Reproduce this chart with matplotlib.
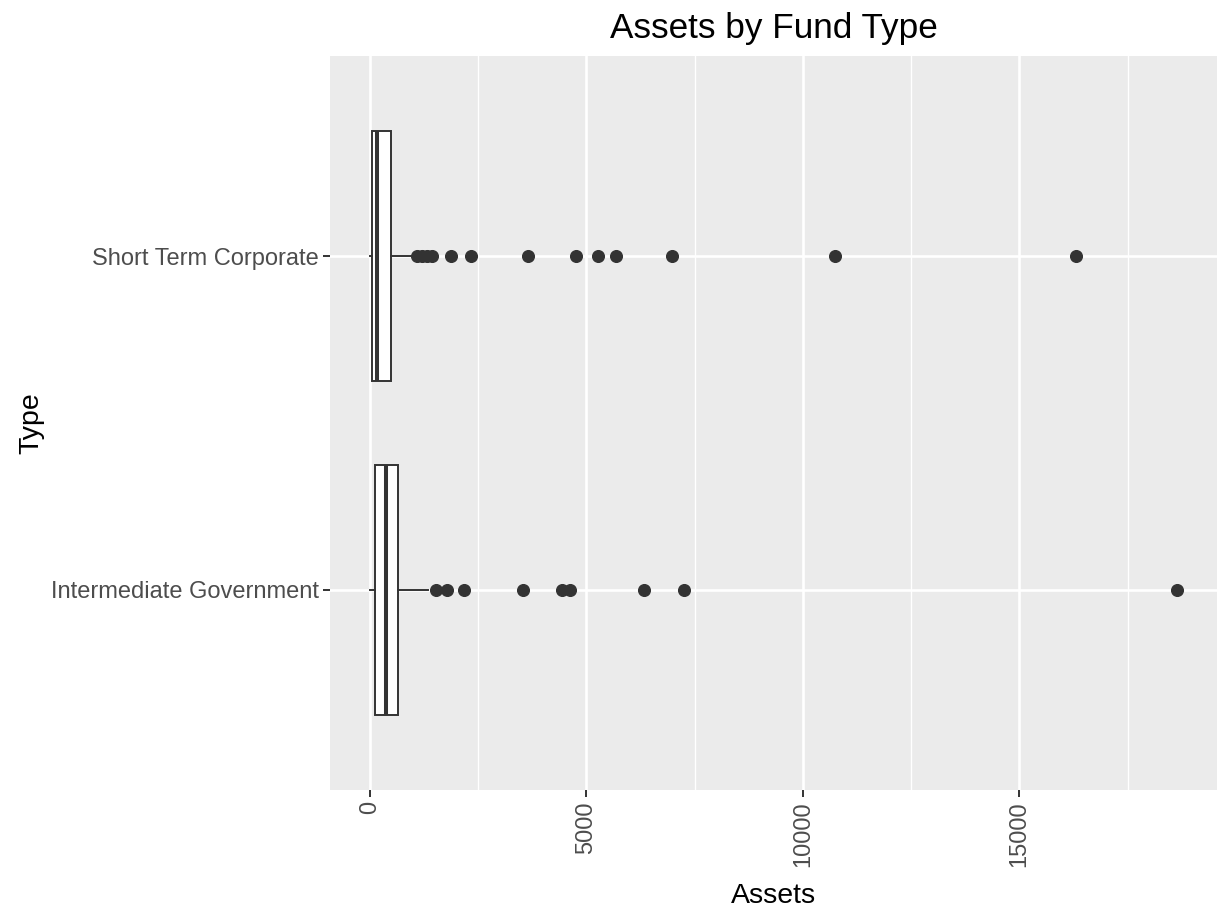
import matplotlib
matplotlib.use("Agg")
import matplotlib.pyplot as plt
from matplotlib.ticker import MultipleLocator

plt.rcParams['font.family'] = ['Liberation Sans', 'DejaVu Sans']

categories = ["Intermediate Government", "Short Term Corporate"]
whislo = [10, 12]
q1 = [109, 53]
median = [377, 174]
q3 = [655, 479]
whishi = [1350, 980]
fliers = [
    [1520, 1790, 2176, 3526, 4437, 4622, 6327, 7253, 18634],
    [1095, 1211, 1326, 1442, 1882, 2345, 3650, 4762, 5271, 5694, 6975, 10741, 16319],
]
x_ticks = [0, 5000, 10000, 15000]

fig = plt.figure(figsize=(12.28, 9.21), dpi=100)
ax = fig.add_axes([330/1228, 1-790/921, (1217-330)/1228, (790-56)/921])
ax.set_facecolor('#EBEBEB')
for s in ax.spines.values():
    s.set_visible(False)

stats = []
for i in range(len(categories)):
    stats.append(dict(whislo=whislo[i], q1=q1[i], med=median[i], q3=q3[i],
                      whishi=whishi[i], fliers=fliers[i], label=categories[i]))

ec = '#333333'
ax.bxp(stats, positions=[1, 2], widths=0.75, vert=False, patch_artist=True,
       showcaps=False,
       boxprops=dict(facecolor='white', edgecolor=ec, linewidth=1.4),
       medianprops=dict(color=ec, linewidth=2.9, solid_capstyle='butt'),
       whiskerprops=dict(color=ec, linewidth=1.4),
       flierprops=dict(marker='o', markerfacecolor=ec, markeredgecolor=ec,
                       markersize=8.4, linestyle='none'), zorder=3)

dmin = min(whislo)
dmax = max(max(f) for f in fliers)
rng = dmax - dmin
ax.set_xlim(dmin - 0.05*rng, dmax + 0.05*rng)
ax.set_ylim(0.4, 2.6)
ax.set_xticks(x_ticks)
ax.set_xticklabels([str(t) for t in x_ticks], rotation=90)
ax.xaxis.set_minor_locator(MultipleLocator(2500))
ax.set_yticks([1, 2])
ax.set_yticklabels(categories)

ax.grid(which='major', color='white', linewidth=1.9, zorder=0)
ax.grid(which='minor', axis='x', color='white', linewidth=0.95, zorder=0)
ax.set_axisbelow(True)
ax.tick_params(axis='both', which='major', length=5, width=1.4, color=ec,
               labelcolor='#4D4D4D', labelsize=17, pad=3)
ax.tick_params(axis='x', which='minor', length=0)

ax.set_xlabel('Assets', fontsize=20.5, color='black', labelpad=12)
ax.set_ylabel('Type', fontsize=20.5, color='black', labelpad=5)
ax.set_title('Assets by Fund Type', fontsize=25.3, color='black', pad=13)

fig.savefig('out.png', dpi=100)
